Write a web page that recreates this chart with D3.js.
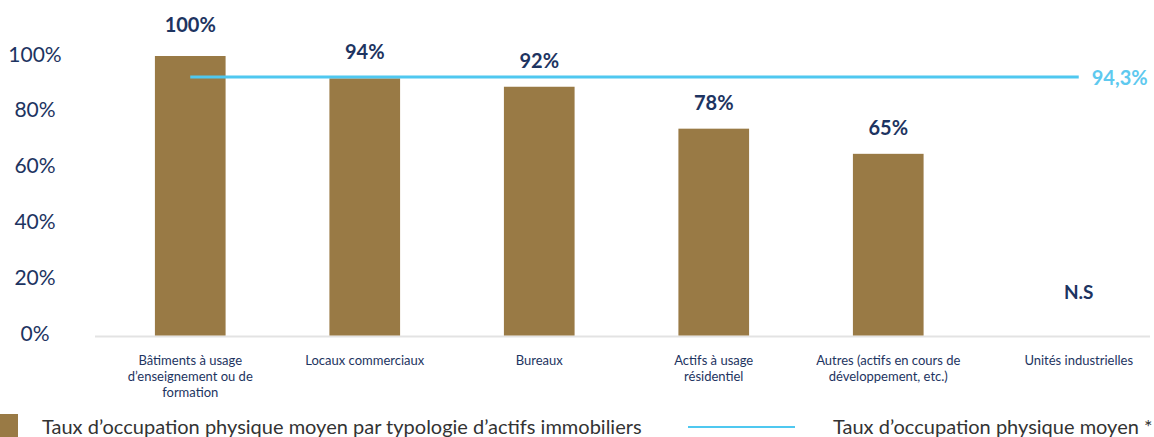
<!DOCTYPE html>
<html><head><meta charset="utf-8">
<script src="https://cdn.jsdelivr.net/npm/d3@7/dist/d3.min.js"></script>
<style>
html,body{margin:0;padding:0;background:#fff;}
svg{display:block;font-family:Lato,"Open Sans",sans-serif;}
</style></head>
<body><svg id="c" width="1154" height="437"></svg>
<script>
const categories = [
  ["Bâtiments à usage","d’enseignement ou de","formation"],
  ["Locaux commerciaux"],
  ["Bureaux"],
  ["Actifs à usage","résidentiel"],
  ["Autres (actifs en cours de","développement, etc.)"],
  ["Unités industrielles"]
];
const categoryKeys = ["batiments","locaux","bureaux","residentiel","autres","industrielles"];
// bar heights as drawn in the picture (percent)
const barValues = [100, 92, 89, 74, 65, null];
// labels printed above the bars
const barLabels = ["100%","94%","92%","78%","65%","N.S"];
// average line (drawn level) and its printed label
const avgValue = 92.5;
const avgLabel = "94,3%";
const yTicks = [0,20,40,60,80,100];
const legendBar = "Taux d’occupation physique moyen par typologie d’actifs immobiliers";
const legendLine = "Taux d’occupation physique moyen *";

const navy = "#1d3461", gold = "#997a45", cyan = "#4fc8f0";
const svg = d3.select("#c");

const x = d3.scaleBand().domain(categoryKeys).range([103,1150]).paddingInner(0.595).paddingOuter(0.2975);
const y = d3.scaleLinear().domain([0,100]).range([335.5,56]);

// y tick labels
svg.append("g").selectAll("text").data(yTicks).join("text")
  .attr("x",35).attr("y",d=>y(d)-3)
  .attr("text-anchor","middle").attr("dominant-baseline","central")
  .attr("font-size",21).attr("fill",navy)
  .text(d=>d+"%");

// baseline
svg.append("line").attr("x1",95).attr("x2",1150).attr("y1",y(0)+1).attr("y2",y(0)+1)
  .attr("stroke","#e3e3e3").attr("stroke-width",2);

// bars
svg.append("g").selectAll("rect").data(categoryKeys.map((k,i)=>({k,v:barValues[i]})).filter(d=>d.v!=null))
  .join("rect")
  .attr("x",d=>x(d.k)).attr("width",x.bandwidth())
  .attr("y",d=>y(d.v)).attr("height",d=>y(0)-y(d.v))
  .attr("fill",gold);

// value labels
const cx = k => x(k)+x.bandwidth()/2 + (k==="industrielles"?16:0);
svg.append("g").selectAll("text").data(categoryKeys.map((k,i)=>({k,v:barValues[i],t:barLabels[i]})))
  .join("text")
  .attr("x",d=>cx(d.k))
  .attr("y",d=>d.v==null? y(0)-44 : y(d.v)-(d.v>=100?32:27))
  .attr("text-anchor","middle").attr("dominant-baseline","central")
  .attr("font-size",d=>d.v==null?19:20).attr("font-weight","bold").attr("fill",navy)
  .text(d=>d.t);

// average line
const x0 = cx(categoryKeys[0]);
const x1 = cx(categoryKeys[categoryKeys.length-1]);
svg.append("line").attr("x1",x0).attr("x2",x1).attr("y1",y(avgValue)).attr("y2",y(avgValue))
  .attr("stroke",cyan).attr("stroke-width",3);
svg.append("text").attr("x",x1+13).attr("y",y(avgValue)).attr("dominant-baseline","central")
  .attr("font-size",20).attr("font-weight","bold").attr("fill","#5ec9ef").text(avgLabel);

// category labels
const cg = svg.append("g").selectAll("text").data(categoryKeys.map((k,i)=>({k,lines:categories[i]})))
  .join("text")
  .attr("x",d=>cx(d.k))
  .attr("y",360).attr("text-anchor","middle").attr("dominant-baseline","central")
  .attr("font-size",13).attr("fill",navy);
cg.selectAll("tspan").data(d=>d.lines.map(l=>({l,x:cx(d.k)})))
  .join("tspan").attr("x",d=>d.x).attr("dy",(d,i)=>i?16:0).text(d=>d.l);

// legend
svg.append("rect").attr("x",0).attr("y",414).attr("width",18).attr("height",23).attr("fill",gold);
svg.append("text").attr("x",42).attr("y",426).attr("dominant-baseline","central")
  .attr("font-size",20).attr("fill","#333").text(legendBar);
svg.append("line").attr("x1",688).attr("x2",795).attr("y1",427).attr("y2",427)
  .attr("stroke",cyan).attr("stroke-width",2);
svg.append("text").attr("x",833).attr("y",426).attr("dominant-baseline","central")
  .attr("font-size",20).attr("fill","#333").text(legendLine);
</script></body></html>
